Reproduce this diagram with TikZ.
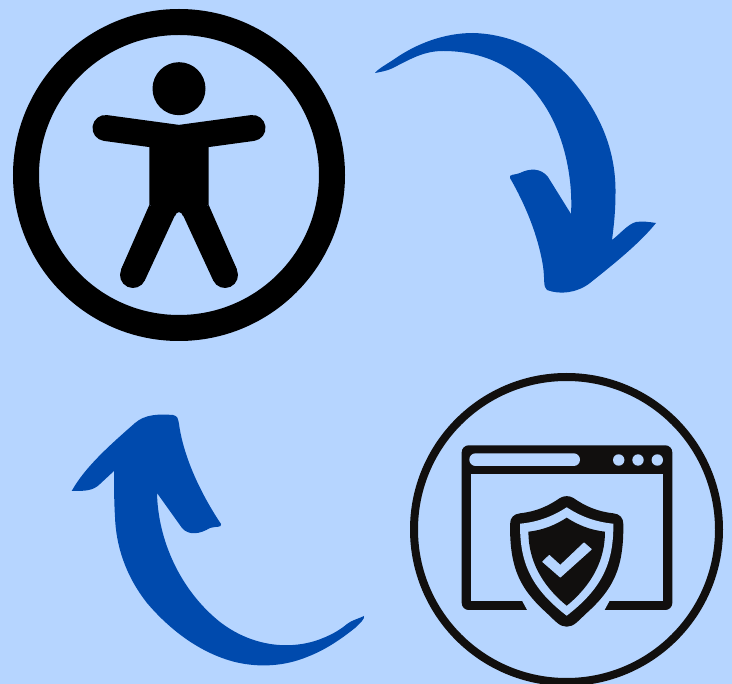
\documentclass[tikz,border=0pt]{standalone}
\definecolor{bgblue}{HTML}{B6D5FF}
\definecolor{arrowblue}{HTML}{004AAD}
\definecolor{inkdark}{HTML}{110F0E}
\tikzset{
  limb/.style={draw=black,line width=26pt,line cap=round,line join=miter},
  curvearrow/.style={fill=arrowblue},
  lightfill/.style={fill=bgblue},
  darkfill/.style={fill=inkdark}
}
\begin{document}
\begin{tikzpicture}[x=1pt,y=-1pt]
\useasboundingbox (0,0) rectangle (732,684);
\fill[bgblue] (0,0) rectangle (732,684);
% accessibility icon
\draw[black,line width=26pt] (179,175) circle (153);
\fill[black] (179,88.7) circle (26.5);
\draw[limb] (105.5,128) -- (179,138) -- (252.5,128);
\fill[black] (149.3,135) -- (208.7,135) -- (208.7,205) -- (183,216) -- (181.7,213.5) .. controls (180,211.5) and (178,211.5) .. (176.3,213.5) -- (175,216) -- (149.3,205) -- cycle;
\draw[limb] (133,275) -- (164,208);
\draw[limb] (225,275) -- (194,208);
\fill[black] (149.3,205) -- (121,269.6) -- (133,275) -- (164,215) -- cycle;
\fill[black] (208.7,205) -- (237,269.6) -- (225,275) -- (194,215) -- cycle;
% top arrow
\fill[curvearrow] (375,73) .. controls (377,70) and (382,67) .. (393,60)
 .. controls (417,43) and (445,33) .. (473,33)
 .. controls (510,34) and (545,50) .. (572,80)
 .. controls (600,113) and (616,150) .. (615.5,193)
 .. controls (615.5,210) and (614,225) .. (612,240)
 .. controls (620,234) and (628,224) .. (636,222)
 .. controls (642,221) and (650,222) .. (656,223)
 .. controls (640,243) and (615,263) .. (590,283)
 .. controls (577,293) and (560,295) .. (547,290)
 .. controls (543,287) and (545,280) .. (543,266)
 .. controls (538,235) and (525,204) .. (510,178)
 .. controls (508,174) and (516,175) .. (520,173)
 .. controls (530,168) and (541,168) .. (548,177)
 -- (571,214)
 .. controls (573,180) and (565,135) .. (543,103)
 .. controls (520,68) and (485,51) .. (443,51)
 .. controls (425,51) and (412,58) .. (393,68)
 .. controls (387,71) and (380,72) .. (375,73) -- cycle;
% bottom arrow
\fill[curvearrow] (71.7,491)
 .. controls (85,467) and (110,445) .. (135,423)
 .. controls (145,414) and (160,414) .. (173,415)
 .. controls (178,416) and (178,419) .. (179,424)
 .. controls (184,460) and (203,497) .. (221,524)
 .. controls (222,528) and (216,526) .. (210,528)
 .. controls (200,534) and (189,536) .. (182,528)
 -- (157,493)
 .. controls (158,540) and (180,590) .. (220,622)
 .. controls (250,645) and (285,650) .. (315,641)
 .. controls (330,636) and (340,630) .. (347,624)
 .. controls (352,620) and (358,619) .. (364,616)
 .. controls (365,619) and (360,623) .. (355,628)
 .. controls (340,640) and (325,650) .. (307,657)
 .. controls (285,666) and (260,668) .. (235,662)
 .. controls (200,653) and (170,630) .. (147,603)
 .. controls (125,575) and (116,545) .. (115,517)
 .. controls (114,500) and (114,485) .. (114,471)
 -- (100,484)
 .. controls (93,491) and (85,491) .. (71.7,491) -- cycle;
% shield icon
\draw[inkdark,line width=8pt] (566.5,529.5) circle (152.5);
\fill[darkfill,rounded corners=7pt] (461.7,445.3) rectangle (672.3,610);
\fill[lightfill] (470.7,474) rectangle (662.7,601);
\fill[lightfill] (521.7,600) -- (527.7,611) -- (604,611) -- (610,600) -- cycle;
\fill[lightfill,rounded corners=6.3pt] (469.3,453.3) rectangle (580,466);
\foreach \dotx in {618.7,638,657.3}
  \fill[lightfill] (\dotx,460) circle (5.7);
\fill[darkfill] (560,498) .. controls (564,495.5) and (569.4,495.5) .. (573.4,498)
 .. controls (585,506) and (597,511.5) .. (613.3,513.3)
 .. controls (620,514) and (623.3,518) .. (623.3,524)
 .. controls (624,570) and (612,590) .. (586.7,613)
 .. controls (578,621) and (574,626.7) .. (566.7,626.7)
 .. controls (559.4,626.7) and (555.4,621) .. (546.7,613)
 .. controls (521.4,590) and (509.4,570) .. (510.1,524)
 .. controls (510.1,518) and (513.4,514) .. (520.1,513.3)
 .. controls (536.4,511.5) and (548.4,506) .. (560,498) -- cycle;
\fill[lightfill] (566.7,507.3) .. controls (580,516) and (595,522) .. (613.3,523.7)
 .. controls (614,565) and (600,590) .. (566.7,615.7)
 .. controls (533.4,590) and (519.4,565) .. (520.1,523.7)
 .. controls (538.4,522) and (553.4,516) .. (566.7,507.3) -- cycle;
\fill[darkfill] (566.7,517.7) .. controls (578,525) and (590,530) .. (605,531.7)
 .. controls (605,560) and (592,585) .. (566.7,605.7)
 .. controls (541.4,585) and (528.4,560) .. (528.4,531.7)
 .. controls (543.4,530) and (555.4,525) .. (566.7,517.7) -- cycle;
\fill[lightfill,draw=bgblue,line width=1pt,line join=round] (560.3,577) -- (542.8,561.7) -- (549.3,555.5) -- (560.3,565.5) -- (584,543) -- (591.2,549.3) -- cycle;
\end{tikzpicture}
\end{document}
